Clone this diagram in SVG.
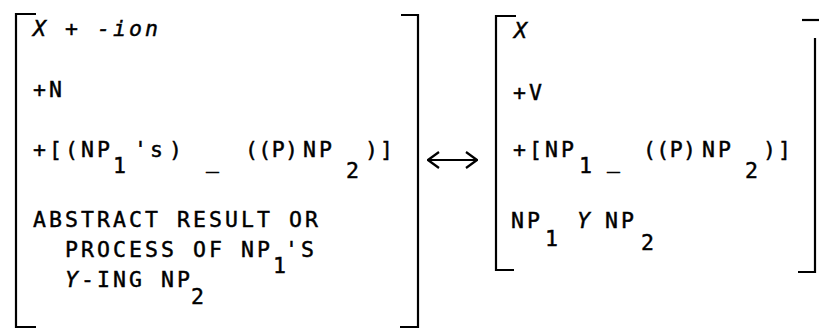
<svg xmlns="http://www.w3.org/2000/svg" width="819" height="333" viewBox="0 0 819 333">
<style>
.t{font-family:"DejaVu Sans Mono","Liberation Mono",monospace;font-size:21.5px;letter-spacing:3.05px;fill:#000;stroke:#000;stroke-width:0.45}
.i{font-style:italic}
.tight{letter-spacing:0.4px}
.br{stroke:#000;stroke-width:2.2;fill:none}
.ar{stroke:#000;stroke-width:2.2;fill:none}
</style>
<defs>
<marker id="head" markerUnits="userSpaceOnUse" viewBox="0 0 13 18" refX="12" refY="9" markerWidth="13" markerHeight="18" orient="auto-start-reverse">
<path d="M1,1 L12,9 L1,17" stroke="#000" stroke-width="2.2" fill="none"/>
</marker>
</defs>
<rect width="819" height="333" fill="#fff"/>
<g id="lhs">
<path class="br" d="M36,14 H16 V327 H36"/>
<path class="br" d="M401,15 H418 V327 H400"/>
<text class="t"><tspan class="i" x="33" y="36">X</tspan><tspan x="65" y="36">+</tspan><tspan class="i" x="97" y="36">-ion</tspan></text>
<text class="t" x="33" y="97">+N</text>
<text class="t"><tspan x="33" y="157">+[(NP</tspan><tspan x="113" y="173">1</tspan><tspan x="134" y="157">'s</tspan><tspan x="169" y="157">)</tspan><tspan x="206" y="168">_</tspan><tspan class="tight" x="245" y="157">((P)</tspan><tspan x="303" y="157">NP</tspan><tspan x="346" y="178">2</tspan><tspan x="365" y="157">)</tspan><tspan x="380" y="157">]</tspan></text>
<text class="t" x="33" y="227">ABSTRACT RESULT OR</text>
<text class="t"><tspan x="65" y="257">PROCESS OF NP</tspan><tspan x="273" y="273">1</tspan><tspan x="285" y="257">'S</tspan></text>
<text class="t"><tspan class="i" x="65" y="287">Y</tspan><tspan x="81" y="287">-ING NP</tspan><tspan x="191" y="304">2</tspan></text>
</g>
<g id="rhs">
<path class="br" d="M516,16 H496 V270 H514"/>
<path class="br" d="M802,20 H819"/>
<path class="br" d="M815,38 V272 H798"/>
<text class="t i" x="514" y="38">X</text>
<text class="t" x="513" y="100">+V</text>
<text class="t"><tspan x="513" y="157">+[NP</tspan><tspan x="579" y="173">1</tspan><tspan x="607" y="168">_</tspan><tspan class="tight" x="643" y="157">((P)</tspan><tspan x="702" y="157">NP</tspan><tspan x="745" y="178">2</tspan><tspan x="763" y="157">)</tspan><tspan x="778" y="157">]</tspan></text>
<text class="t"><tspan x="511" y="228">NP</tspan><tspan x="545" y="246">1</tspan><tspan class="i" x="577" y="228">Y</tspan><tspan x="605" y="228">NP</tspan><tspan x="641" y="250">2</tspan></text>
</g>
<g id="connectors">
<path class="ar" d="M428,160 H477" marker-start="url(#head)" marker-end="url(#head)"/>
</g>
</svg>
